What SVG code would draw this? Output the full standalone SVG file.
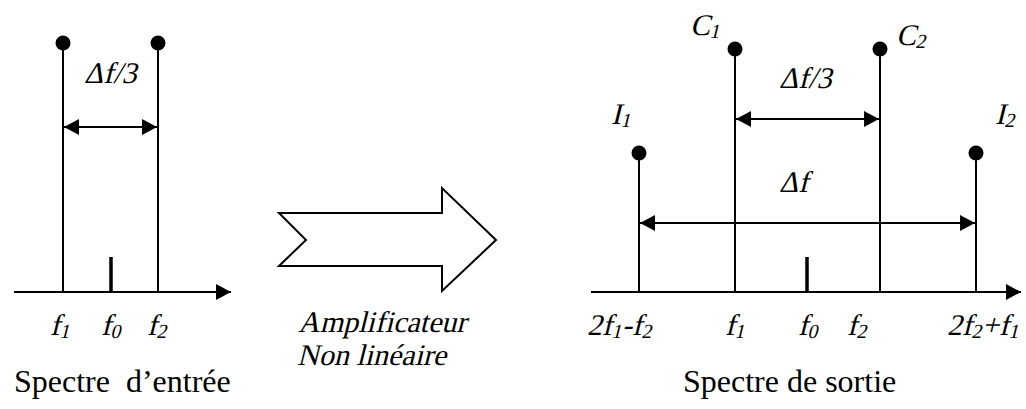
<svg xmlns="http://www.w3.org/2000/svg" width="1026" height="409" viewBox="0 0 1026 409">
<style>
.ln{stroke:#000;stroke-width:2;fill:none}
.tk{stroke:#000;stroke-width:3.5}
.dot{fill:#000}
.it{font-family:"Liberation Serif","Times New Roman",serif;font-style:normal;font-size:30px;fill:#000}
.rm{font-family:"Liberation Serif","Times New Roman",serif;font-size:32px;fill:#000}
.sub{font-size:20px}
</style>
<defs>
<marker id="ah" viewBox="0 0 15 16" refX="15" refY="8" markerWidth="15" markerHeight="16" markerUnits="userSpaceOnUse" orient="auto-start-reverse">
<path d="M0,0 L15,8 L0,16 Z" fill="#000"/>
</marker>
</defs>
<rect width="1026" height="409" fill="#fff"/>
<g id="left-spectrum">
<line class="ln" x1="63" y1="43" x2="63" y2="292"/>
<line class="ln" x1="158" y1="43" x2="158" y2="292"/>
<circle class="dot" cx="63" cy="43" r="7.5"/>
<circle class="dot" cx="158" cy="43" r="7.5"/>
<line class="tk" x1="111" y1="257" x2="111" y2="292"/>
<text class="it" transform="translate(84,83) skewX(-14)">Δf/3</text>
<text class="it" transform="translate(50,335) skewX(-14)">f<tspan class="sub" dy="3">1</tspan></text>
<text class="it" transform="translate(101,335) skewX(-14)">f<tspan class="sub" dy="3">0</tspan></text>
<text class="it" transform="translate(147,335) skewX(-14)">f<tspan class="sub" dy="3">2</tspan></text>
<text class="rm" x="14" y="392" xml:space="preserve">Spectre  d’entrée</text>
</g>
<g id="amplifier">
<path d="M279,213 L442,213 L442,188 L496,240 L442,291 L442,266 L279,266 L306,240 Z" fill="#fff" stroke="#000" stroke-width="2"/>
<text class="it" transform="translate(298,332) skewX(-14)">Amplificateur</text>
<text class="it" transform="translate(297,365) skewX(-14)">Non linéaire</text>
</g>
<g id="right-spectrum">
<line class="ln" x1="639" y1="153" x2="639" y2="292"/>
<line class="ln" x1="735" y1="49" x2="735" y2="292"/>
<line class="ln" x1="880" y1="49" x2="880" y2="292"/>
<line class="ln" x1="976" y1="153" x2="976" y2="292"/>
<circle class="dot" cx="639" cy="153" r="7.5"/>
<circle class="dot" cx="735" cy="49" r="7.5"/>
<circle class="dot" cx="880" cy="49" r="7.5"/>
<circle class="dot" cx="976" cy="153" r="7.5"/>
<line class="tk" x1="807" y1="257" x2="807" y2="292"/>
<text class="it" transform="translate(690,35) skewX(-14)">C<tspan class="sub" dy="3">1</tspan></text>
<text class="it" transform="translate(896,45) skewX(-14)">C<tspan class="sub" dy="3">2</tspan></text>
<text class="it" transform="translate(611,124) skewX(-14)">I<tspan class="sub" dy="3">1</tspan></text>
<text class="it" transform="translate(995,124) skewX(-14)">I<tspan class="sub" dy="3">2</tspan></text>
<text class="it" transform="translate(779,88) skewX(-14)">Δf/3</text>
<text class="it" transform="translate(779,192) skewX(-14)">Δf</text>
<text class="it" transform="translate(587,335) skewX(-14)">2f<tspan class="sub" dy="3">1</tspan><tspan dy="-3">-f</tspan><tspan class="sub" dy="3">2</tspan></text>
<text class="it" transform="translate(725,335) skewX(-14)">f<tspan class="sub" dy="3">1</tspan></text>
<text class="it" transform="translate(798,335) skewX(-14)">f<tspan class="sub" dy="3">0</tspan></text>
<text class="it" transform="translate(847,335) skewX(-14)">f<tspan class="sub" dy="3">2</tspan></text>
<text class="it" transform="translate(947,335) skewX(-14)">2f<tspan class="sub" dy="3">2</tspan><tspan dy="-3">+f</tspan><tspan class="sub" dy="3">1</tspan></text>
<text class="rm" x="683" y="392">Spectre de sortie</text>
</g>
<g id="connectors">
<line class="ln" x1="14" y1="292" x2="231" y2="292" marker-end="url(#ah)"/>
<line class="ln" x1="64" y1="127" x2="157" y2="127" marker-start="url(#ah)" marker-end="url(#ah)"/>
<line class="ln" x1="591" y1="292" x2="1021" y2="292" marker-end="url(#ah)"/>
<line class="ln" x1="736" y1="119" x2="879" y2="119" marker-start="url(#ah)" marker-end="url(#ah)"/>
<line class="ln" x1="640" y1="223" x2="975" y2="223" marker-start="url(#ah)" marker-end="url(#ah)"/>
</g>
</svg>
